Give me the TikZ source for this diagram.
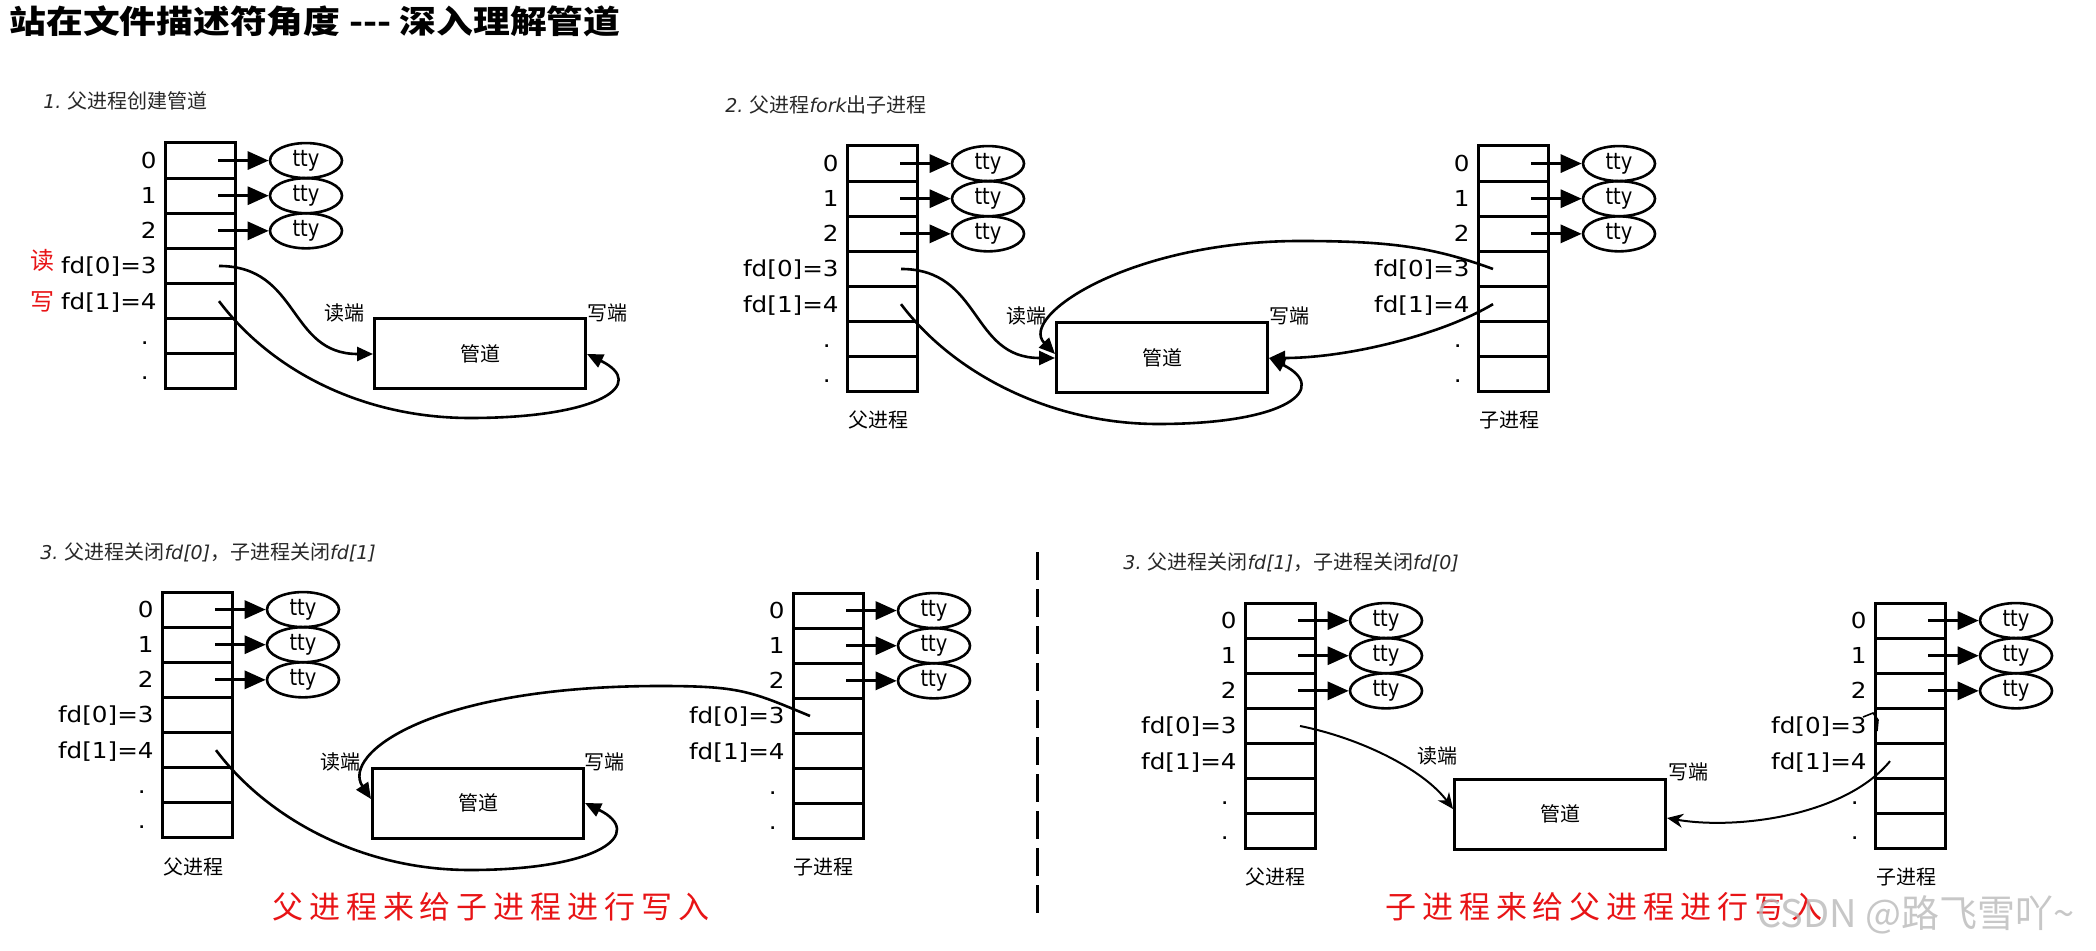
\documentclass[tikz,border=0pt]{standalone}
\usepackage{fontspec}
\usetikzlibrary{arrows.meta,shapes.geometric,calc}
\setmainfont{DejaVu Sans}
\newfontfamily\fdfont{DejaVu Sans}[FakeStretch=1.12]
\newfontfamily\ttyfont{DejaVu Sans}[FakeStretch=0.85]
\newfontfamily\latfont{DejaVu Sans}
\newfontfamily\cjk{Noto Sans CJK SC}
\newfontfamily\titlefont{Noto Sans CJK SC}[FakeStretch=1.15]
\newfontfamily\redfont{Noto Sans CJK SC}[LetterSpace=19]
\newfontfamily\wmfont{Noto Sans CJK SC}
\definecolor{myred}{RGB}{232,20,22}
\definecolor{capgray}{RGB}{40,40,40}
\definecolor{wmgray}{RGB}{185,185,185}
\newcommand\capit[1]{{\latfont\itshape\fontsize{9.5pt}{12pt}\selectfont #1}}
\tikzset{
 cell/.style={draw, line width=1.5pt, minimum width=35pt, minimum height=17.57pt, inner sep=0pt, outer sep=0pt},
 fdlab/.style={font=\fdfont\fontsize{11pt}{12pt}\selectfont, inner sep=0pt},
 ttynode/.style={ellipse, draw, line width=1.3pt, minimum width=36pt, minimum height=17.5pt, inner sep=0pt, font=\ttyfont\fontsize{11.5pt}{12pt}\selectfont},
 ttyarr/.style={line width=1.5pt, -{Triangle[length=10.5pt,width=9pt]}},
 pipebox/.style={draw, line width=1.5pt, minimum width=105.5pt, minimum height=35pt, inner sep=0pt, font=\cjk\fontsize{10pt}{12pt}\selectfont},
 cjklab/.style={font=\cjk\fontsize{10pt}{12pt}\selectfont, inner sep=0pt},
 capnode/.style={font=\cjk\fontsize{10pt}{12pt}\selectfont, text=capgray, inner sep=0pt, anchor=west},
 flow/.style={line width=1.3pt, -{Triangle[length=8pt,width=7pt]}},
 flowthin/.style={line width=1pt, -{Stealth[length=8pt,width=7pt]}},
 redtxt/.style={font=\redfont\fontsize{15.5pt}{18pt}\selectfont, text=myred, inner sep=0pt, anchor=west},
 redlab/.style={font=\cjk\fontsize{12pt}{14pt}\selectfont, text=myred, inner sep=0pt},
}
% #1 name, #2 left x, #3 top y
\newcommand\fdtable[3]{%
 \foreach \i/\lab in {0/0,1/1,2/2,3/{fd[0]=3},4/{fd[1]=4}} {
   \node[cell] (#1r\i) at ({#2+35},{#3+17.57+35.14*\i}) {};
   \node[fdlab, anchor=base east] (#1l\i) at ({#2-8},{#3+25.57+35.14*\i}) {\lab};
 }
 \foreach \i in {5,6} {
   \node[cell] (#1r\i) at ({#2+35},{#3+17.57+35.14*\i}) {};
   \node[fdlab, anchor=base east] (#1l\i) at ({#2-16},{#3+25.57+35.14*\i}) {.};
 }
 \foreach \i in {0,1,2} {
   \node[ttynode] (#1t\i) at ({#2+141},{#3+17.57+35.14*\i}) {tty};
   \coordinate (#1a\i) at ({#2+53},{#3+17.57+35.14*\i});
   \draw[ttyarr] (#1a\i) -- (#1t\i);
 }
}
\begin{document}
\begin{tikzpicture}[x=0.5pt,y=-0.5pt]
\useasboundingbox (0,0) rectangle (2096,951);
\fill[white] (0,0) rectangle (2096,951);

% title
\node[anchor=west, inner sep=0pt, font=\titlefont\bfseries\fontsize{16pt}{18pt}\selectfont] (title) at (9,21) {站在文件描述符角度 --- 深入理解管道};

% ---------- panel 1 ----------
\node[capnode] (cap1) at (43,101) {\capit{1.} 父进程创建管道};
\fdtable{p1}{165}{143}
\node[redlab] (rd1) at (43,260) {读};
\node[redlab] (wr1) at (43,302) {写};
\node[pipebox] (pipe1) at (480,354) {管道};
\node[cjklab] (re1) at (344,313) {读端};
\node[cjklab] (we1) at (607,313) {写端};
\coordinate (p1s3) at ($(p1r3.center)+(19,0)$);
\coordinate (p1s4) at ($(p1r4.center)+(19,0)$);
\coordinate (p1b) at (470,418);
\draw[flow] (p1s3) .. controls +(81,0) and +(-85,0) .. (pipe1.west);
\draw[flow] (p1s4) .. controls +(51,68) and +(-109,0) .. (p1b) .. controls +(131,0) and +(61,30) .. (pipe1.east);

% ---------- panel 2 ----------
\node[capnode] (cap2) at (725,105) {\capit{2.} 父进程\capit{fork}出子进程};
\fdtable{p2}{847}{146}
\fdtable{c2}{1478}{146}
\node[cjklab] (pn2) at (878,420) {父进程};
\node[cjklab] (cn2) at (1509,420) {子进程};
\node[pipebox] (pipe2) at (1162,358) {管道};
\node[cjklab] (re2) at (1026,316) {读端};
\node[cjklab] (we2) at (1289,316) {写端};
\coordinate (p2s3) at ($(p2r3.center)+(19,0)$);
\coordinate (p2s4) at ($(p2r4.center)+(19,0)$);
\coordinate (c2s3) at ($(c2r3.center)+(-20,0)$);
\coordinate (c2s4) at ($(c2r4.center)+(-20,0)$);
\coordinate (p2b) at (1158,424);
\coordinate (c2top) at (1300,241);
\draw[flow] (p2s3) .. controls +(81,0) and +(-85,0) .. (pipe2.west);
\draw[flow] (p2s4) .. controls +(51,68) and +(-109,0) .. (p2b) .. controls +(131,0) and +(61,30) .. (pipe2.east);
\draw[flow] (c2s3) .. controls +(-60,-22) and +(90,0) .. (c2top) .. controls +(-170,0) and +(-37,-38) .. ([yshift=2pt]pipe2.west);
\draw[flow] (c2s4) .. controls +(-50,30) and +(80,0) .. (pipe2.east);

% ---------- panel 3 ----------
\node[capnode] (cap3) at (40,552) {\capit{3.} 父进程关闭\capit{fd[0]}，子进程关闭\capit{fd[1]}};
\fdtable{p3}{162}{592}
\fdtable{c3}{793}{593}
\node[cjklab] (pn3) at (193,867) {父进程};
\node[cjklab] (cn3) at (823,867) {子进程};
\node[pipebox] (pipe3) at (478,803) {管道};
\node[cjklab] (re3) at (340,762) {读端};
\node[cjklab] (we3) at (604,762) {写端};
\coordinate (p3s4) at ($(p3r4.center)+(19,0)$);
\coordinate (c3s3) at ($(c3r3.center)+(-18,0)$);
\coordinate (p3b) at (470,870);
\coordinate (c3top) at (660,686);
\draw[flow] (p3s4) .. controls +(51,68) and +(-109,0) .. (p3b) .. controls +(131,0) and +(61,30) .. (pipe3.east);
\draw[flow] (c3s3) .. controls +(-60,-25) and +(80,0) .. (c3top) .. controls +(-230,0) and +(-30,-45) .. ([yshift=2pt]pipe3.west);
\node[redtxt] (red3) at (272,907) {父进程来给子进程进行写入};

% separator
\draw[line width=1.5pt, dash pattern=on 14pt off 4.5pt] (1037,552) -- (1037,915);

% ---------- panel 4 ----------
\node[capnode] (cap4) at (1123,562) {\capit{3.} 父进程关闭\capit{fd[1]}，子进程关闭\capit{fd[0]}};
\fdtable{p4}{1245}{603}
\fdtable{c4}{1875}{603}
\node[cjklab] (pn4) at (1275,877) {父进程};
\node[cjklab] (cn4) at (1906,877) {子进程};
\node[pipebox] (pipe4) at (1560,814) {管道};
\node[cjklab] (re4) at (1437,756) {读端};
\node[cjklab] (we4) at (1688,772) {写端};
\coordinate (p4s3) at ($(p4r3.center)+(20,0)$);
\coordinate (c4s4) at ($(c4r4.center)+(-20,0)$);
\draw[flowthin] (p4s3) .. controls +(60,12) and +(-30,-40) .. ([yshift=2.5pt]pipe4.west);
\draw[flowthin] (c4s4) .. controls +(-45,55) and +(69,12) .. ([yshift=-2pt]pipe4.east);
\draw[line width=0.8pt] (1863,717) -- (1873,713) -- (1878,720) -- (1877,731);
\node[redtxt] (red4) at (1385,907) {子进程来给父进程进行写入};

% watermark
\node[anchor=west, inner sep=0pt, text=wmgray, opacity=0.8, font=\wmfont\fontsize{19pt}{22pt}\selectfont] (wm) at (1757,915) {CSDN @路飞雪吖\textasciitilde};
\end{tikzpicture}
\end{document}
